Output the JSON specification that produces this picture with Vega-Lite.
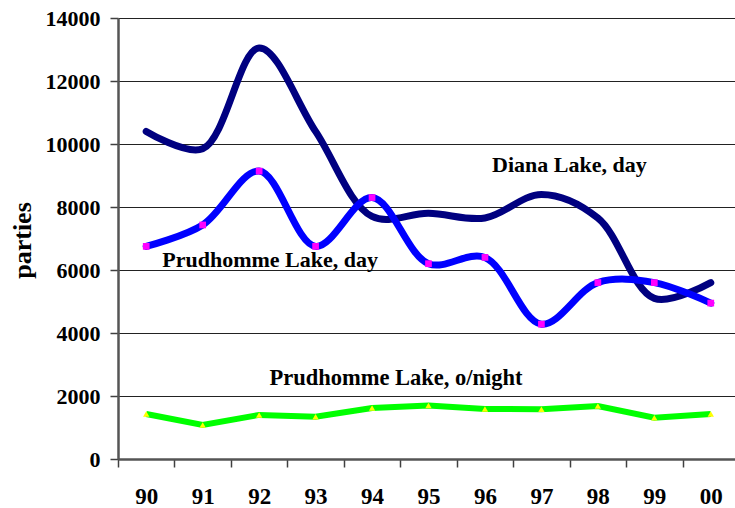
{
  "$schema": "https://vega.github.io/schema/vega-lite/v6.json",
  "width": 621,
  "height": 441,
  "autosize": {"type": "none"},
  "padding": {"left": 118, "top": 18, "right": 0, "bottom": 49},
  "background": "white",
  "config": {
    "view": {"stroke": null},
    "font": "Liberation Serif, DejaVu Serif, serif"
  },
  "datasets": {
    "main": [
      {"year": "90", "series": "Diana Lake, day", "parties": 10400},
      {"year": "91", "series": "Diana Lake, day", "parties": 9850},
      {"year": "92", "series": "Diana Lake, day", "parties": 13050},
      {"year": "93", "series": "Diana Lake, day", "parties": 10400},
      {"year": "94", "series": "Diana Lake, day", "parties": 7700},
      {"year": "95", "series": "Diana Lake, day", "parties": 7800},
      {"year": "96", "series": "Diana Lake, day", "parties": 7650},
      {"year": "97", "series": "Diana Lake, day", "parties": 8400},
      {"year": "98", "series": "Diana Lake, day", "parties": 7650},
      {"year": "99", "series": "Diana Lake, day", "parties": 5100},
      {"year": "00", "series": "Diana Lake, day", "parties": 5600},
      {"year": "90", "series": "Prudhomme Lake, day", "parties": 6750},
      {"year": "91", "series": "Prudhomme Lake, day", "parties": 7430},
      {"year": "92", "series": "Prudhomme Lake, day", "parties": 9140},
      {"year": "93", "series": "Prudhomme Lake, day", "parties": 6750},
      {"year": "94", "series": "Prudhomme Lake, day", "parties": 8300},
      {"year": "95", "series": "Prudhomme Lake, day", "parties": 6200},
      {"year": "96", "series": "Prudhomme Lake, day", "parties": 6400},
      {"year": "97", "series": "Prudhomme Lake, day", "parties": 4280},
      {"year": "98", "series": "Prudhomme Lake, day", "parties": 5600},
      {"year": "99", "series": "Prudhomme Lake, day", "parties": 5600},
      {"year": "00", "series": "Prudhomme Lake, day", "parties": 4950},
      {"year": "90", "series": "Prudhomme Lake, o/night", "parties": 1430},
      {"year": "91", "series": "Prudhomme Lake, o/night", "parties": 1080},
      {"year": "92", "series": "Prudhomme Lake, o/night", "parties": 1400},
      {"year": "93", "series": "Prudhomme Lake, o/night", "parties": 1340},
      {"year": "94", "series": "Prudhomme Lake, o/night", "parties": 1620},
      {"year": "95", "series": "Prudhomme Lake, o/night", "parties": 1700},
      {"year": "96", "series": "Prudhomme Lake, o/night", "parties": 1590},
      {"year": "97", "series": "Prudhomme Lake, o/night", "parties": 1580},
      {"year": "98", "series": "Prudhomme Lake, o/night", "parties": 1680},
      {"year": "99", "series": "Prudhomme Lake, o/night", "parties": 1310},
      {"year": "00", "series": "Prudhomme Lake, o/night", "parties": 1430}
    ]
  },
  "data": {"name": "main"},
  "encoding": {
    "x": {
      "field": "year", "type": "ordinal",
      "scale": {"type": "band", "domain": ["90","91","92","93","94","95","96","97","98","99","00"], "paddingInner": 0, "paddingOuter": 0},
      "axis": {
        "title": null, "labelAngle": 0, "labelFont": "Liberation Serif, DejaVu Serif, serif", "labelFontSize": 23, "labelFontWeight": "bold", "labelColor": "black",
        "labelPadding": 18, "tickBand": "extent", "tickSize": 8, "tickColor": "#404040", "tickWidth": 1.5,
        "domainColor": "#555555", "domainWidth": 2.5, "grid": false
      }
    },
    "y": {
      "field": "parties", "type": "quantitative",
      "scale": {"domain": [0, 14000], "nice": false},
      "axis": {
        "title": "parties", "titleFont": "Liberation Serif, DejaVu Serif, serif", "titleFontSize": 26, "titleFontWeight": "bold", "titleColor": "black",
        "titleX": -96, "titleY": 222, "titleAlign": "center", "titleBaseline": "middle", "titleAngle": -90,
        "values": [0, 2000, 4000, 6000, 8000, 10000, 12000, 14000], "format": "d",
        "labelFont": "Liberation Serif, DejaVu Serif, serif", "labelFontSize": 22, "labelFontWeight": "bold", "labelColor": "black", "labelPadding": 10,
        "tickSize": 8, "tickColor": "#404040", "tickWidth": 1.5,
        "domainColor": "#555555", "domainWidth": 2.5,
        "grid": true, "gridColor": "#222222", "gridWidth": 1
      }
    }
  },
  "layer": [
    {
      "transform": [{"filter": "datum.series === 'Diana Lake, day'"}],
      "mark": {"type": "line", "color": "#000080", "strokeWidth": 7, "interpolate": "catmull-rom", "strokeCap": "round"}
    },
    {
      "transform": [{"filter": "datum.series === 'Prudhomme Lake, day'"}],
      "mark": {"type": "line", "color": "#0000FF", "strokeWidth": 7, "interpolate": "catmull-rom", "strokeCap": "round"}
    },
    {
      "transform": [{"filter": "datum.series === 'Prudhomme Lake, day'"}],
      "mark": {"type": "point", "shape": "square", "filled": true, "color": "#FF00FF", "size": 45, "opacity": 1}
    },
    {
      "transform": [{"filter": "datum.series === 'Prudhomme Lake, o/night'"}],
      "mark": {"type": "line", "color": "#00FF00", "strokeWidth": 6, "interpolate": "linear"}
    },
    {
      "transform": [{"filter": "datum.series === 'Prudhomme Lake, o/night'"}],
      "mark": {"type": "point", "shape": "triangle-up", "filled": true, "color": "#FFFF00", "size": 40, "opacity": 1}
    },
    {
      "data": {"values": [{"year": "97", "parties": 9333, "label": "Diana Lake, day"}]},
      "mark": {"type": "text", "dx": 28, "font": "Liberation Serif, DejaVu Serif, serif", "fontSize": 22, "fontWeight": "bold", "color": "black", "baseline": "middle", "align": "center"},
      "encoding": {"text": {"field": "label"}}
    },
    {
      "data": {"values": [{"year": "92", "parties": 6317, "label": "Prudhomme Lake, day"}]},
      "mark": {"type": "text", "dx": 11, "font": "Liberation Serif, DejaVu Serif, serif", "fontSize": 22, "fontWeight": "bold", "color": "black", "baseline": "middle", "align": "center"},
      "encoding": {"text": {"field": "label"}}
    },
    {
      "data": {"values": [{"year": "94", "parties": 2571, "label": "Prudhomme Lake, o/night"}]},
      "mark": {"type": "text", "dx": 24, "font": "Liberation Serif, DejaVu Serif, serif", "fontSize": 22.5, "fontWeight": "bold", "color": "black", "baseline": "middle", "align": "center"},
      "encoding": {"text": {"field": "label"}}
    }
  ]
}
